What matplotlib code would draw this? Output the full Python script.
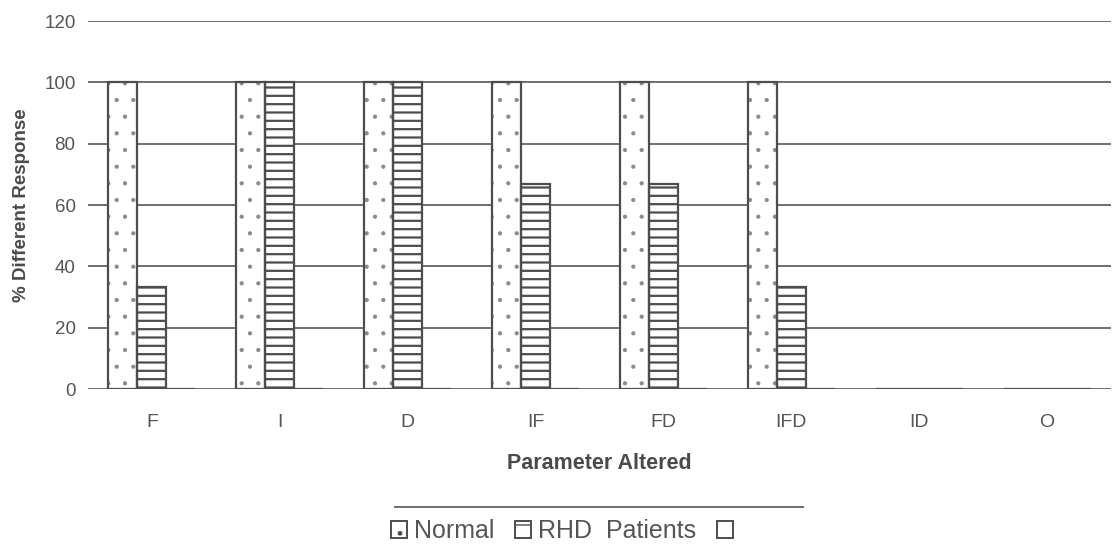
import matplotlib.pyplot as plt
import numpy as np
from matplotlib.lines import Line2D

plt.rcParams['font.family'] = ['Liberation Sans', 'DejaVu Sans']

params = ["F", "I", "D", "IF", "FD", "IFD", "ID", "O"]
normal = [100, 100, 100, 100, 100, 100, 0, 0]
rhd = [33.3, 100, 100, 66.7, 66.7, 33.3, 0, 0]
blank = [0, 0, 0, 0, 0, 0, 0, 0]
yticks = [0, 20, 40, 60, 80, 100, 120]

edge = "#4d4d4d"
txt = "#555555"

fig = plt.figure(figsize=(11.12, 5.49), dpi=100)
ax = fig.add_axes([88 / 1112, 1 - 389 / 549, 1023 / 1112, 368 / 549])

x = np.arange(len(params))
w = 0.227

# dotted fill in a lighter grey, outline drawn on top
with plt.rc_context({"hatch.linewidth": 0.6}):
    ax.bar(x - w, normal, w, facecolor="white", edgecolor="#8a8a8a",
           hatch=".", linewidth=0, zorder=3)
ax.bar(x - w, normal, w, facecolor="none", edgecolor=edge,
       linewidth=1.6, zorder=4)
with plt.rc_context({"hatch.linewidth": 1.6}):
    ax.bar(x, rhd, w, facecolor="white", edgecolor=edge, hatch="--",
           linewidth=1.6, zorder=3)
ax.bar(x + w, blank, w, facecolor="white", edgecolor=edge,
       linewidth=1.6, zorder=3)

ax.set_xlim(-0.5, len(params) - 0.5)
ax.set_ylim(0, 120)
ax.set_yticks(yticks)
ax.set_xticks(x)
ax.set_xticklabels(params)
ax.tick_params(axis="y", length=0, pad=9, labelsize=13.5, colors=txt)
ax.tick_params(axis="x", length=0, pad=18, labelsize=14, colors=txt)
ax.grid(axis="y", color="#6e6e6e", linewidth=1.4, zorder=0)
ax.set_axisbelow(True)
for s in ax.spines.values():
    s.set_visible(False)

ax.set_xlabel("Parameter Altered", fontsize=15.5, fontweight="bold",
              color="#4a4a4a", labelpad=16)
ax.set_ylabel("% Different Response", fontsize=13.5, fontweight="bold",
              color="#4a4a4a", labelpad=10)

# legend handles
with plt.rc_context({"hatch.linewidth": 0.6}):
    h1 = plt.Rectangle((0, 0), 1, 1, facecolor="white", edgecolor=edge,
                       hatch=".", linewidth=1.4)
with plt.rc_context({"hatch.linewidth": 1.4}):
    h2 = plt.Rectangle((0, 0), 1, 1, facecolor="white", edgecolor=edge,
                       hatch="-", linewidth=1.4)
h3 = plt.Rectangle((0, 0), 1, 1, facecolor="white", edgecolor=edge,
                   linewidth=1.4)
fig.legend([h1, h2, h3], ["Normal", "RHD  Patients", " "], loc="center",
           bbox_to_anchor=(569 / 1112, 1 - 531 / 549),
           ncol=3, frameon=False, fontsize=18, handlelength=0.65,
           handleheight=0.65, handletextpad=0.3, columnspacing=0.8,
           labelcolor=txt)
fig.add_artist(Line2D([395 / 1112, 803 / 1112], [1 - 507 / 549] * 2,
                      color="#6e6e6e", linewidth=1.4))

fig.savefig("out.png", dpi=100)
